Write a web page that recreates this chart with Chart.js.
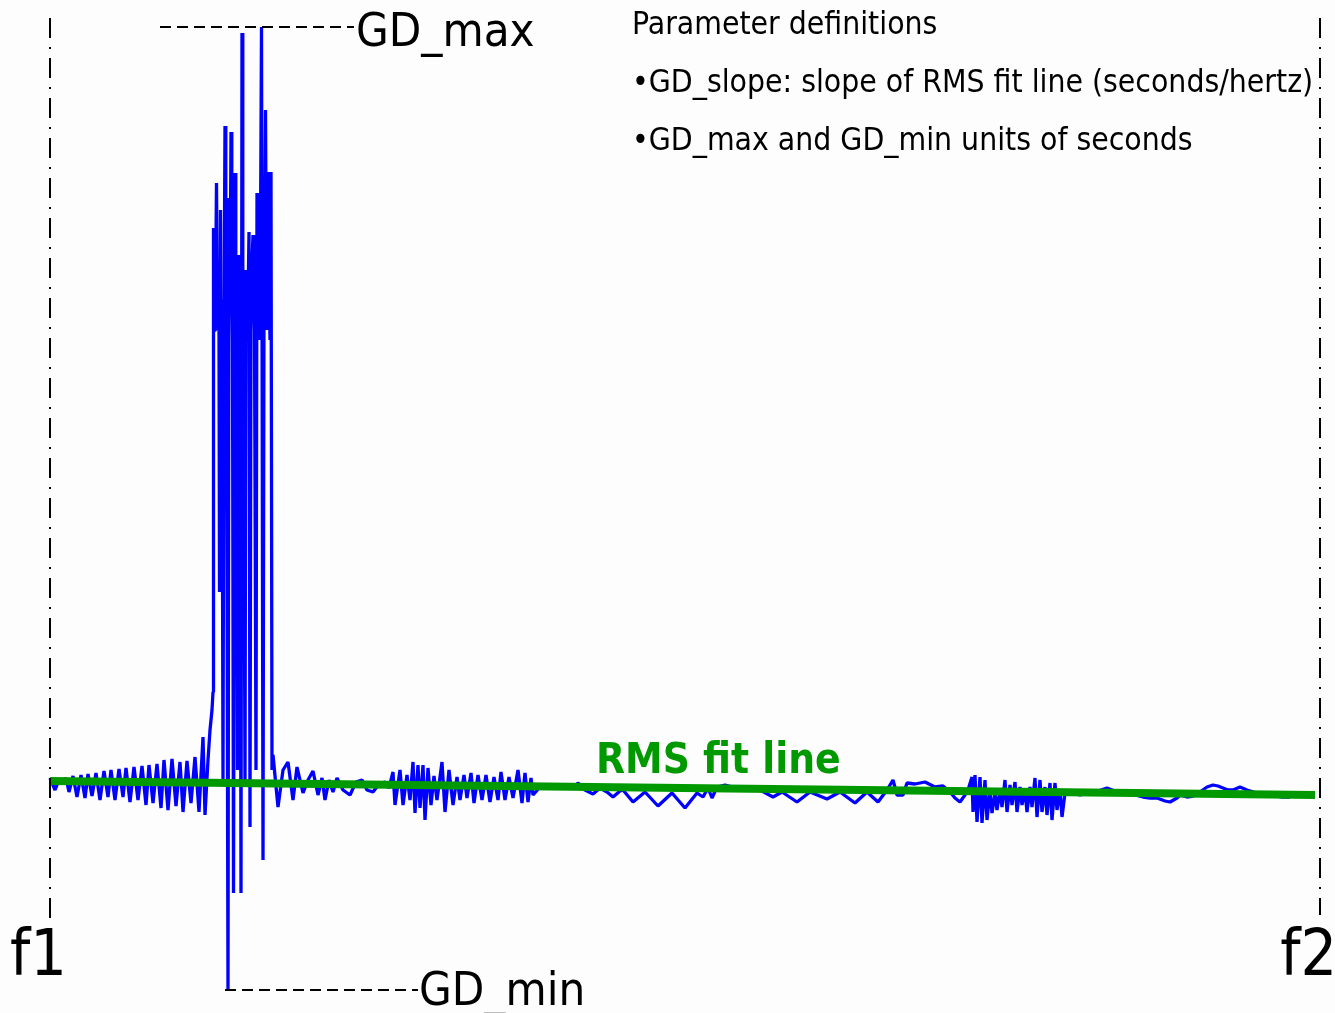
<!DOCTYPE html>
<html><head><meta charset="utf-8">
<script src="https://cdn.jsdelivr.net/npm/chart.js@4"></script>
<style>html,body{margin:0;padding:0;background:#fdfdfd;overflow:hidden}#wrap{width:1335px;height:1013px}</style>
</head><body><div id="wrap"><canvas id="c" width="1335" height="1013"></canvas></div>
<script>
// Frequency offset from f1 (band f1..f2 = 0..1270) and group delay relative to the fit baseline
const bandStart = 0, bandEnd = 1270;
const gdMax = 756, gdMin = -207;
const gdPoints = [
 [0,5],[5,-7],[9,3],[12,-1],[16,5],[19,-9],[23,7],[27,-14],[31,8],[35,-15],[38,9],[42,-13],[46,10],[50,-17],[54,12],[58,-14],[61,13],[65,-17],[69,14],[73,-14],[76,15],[80,-19],[84,16],[88,-17],[92,17],[96,-22],[99,18],[103,-20],[107,19],[111,-25],[114,23],[118,-27],[122,24],[126,-23],[130,21],[133,-29],[137,22],[141,-20],[145,26],[149,-29],[153,46],[155,-32],[158,23],[160,53],[162,73],[163,91],
 [163.5,555],[164.3,470],[165,453],[165.8,520],[166.5,600],[167.2,500],[168,483],[169,460],[169.5,191],[170.5,573],[171.2,470],[172,443],[173,3],[174,483],[174.5,560],[175,657],[175.8,520],[176.5,443],[178,-207],[179,585],[179.5,520],[180,503],[180.5,560],[181,651],[181.8,500],[182.5,443],[183.5,-110],[185,610],[185.8,500],[186.5,453],[187.5,13],[188.5,528],[189.2,500],[190,483],[191,-110],[192,750],[192.8,520],[193.5,443],[195,3],[196,513],[196.8,480],[197.5,453],[198.3,500],[199,551],[200,-44],[201,483],[202,520],[203,548],[203.8,480],[204.5,453],[206,13],[207,590],[207.8,520],[208.5,483],[209.2,500],[210,443],[211.5,756],[213,-77],[214,493],[214.8,560],[215.5,673],[216.3,500],[217,453],[218,611],[219,523],[220,443],[221,611],[222,13],
 [223,28],[228,-24],[233,13],[238,21],[243,-17],[247,16],[253,-10],[258,3],[263,12],[268,-12],[272,5],[275,-17],[279,3],[283,-9],[287,5],[293,-7],[300,-12],[306,1],[312,3],[317,-7],[323,-9],[329,-1],[335,1],[339,-5],
 [343,11],[345,-22],[350,13],[353,-22],[357,8],[360,-17],[363,21],[365,-30],[368,18],[370,-25],[373,18],[375,-37],[378,15],[381,-22],[384,7],[387,-17],[392,21],[395,-29],[399,13],[403,-22],[407,6],[410,-17],[414,8],[417,-15],[421,10],[424,-20],[428,8],[432,-17],[436,8],[440,-19],[444,6],[448,-17],[451,11],[455,-17],[459,6],[463,-15],[468,13],[472,-20],[475,10],[478,-19],[481,5],[483,-12],[490,-4],[510,-5],[525,-4],
 [528,0],[535,-7],[543,-11],[550,-5],[557,-9],[563,-14],[570,-8],[573,-7],[583,-19],[595,-9],[608,-23],[622,-10],[635,-25],[647,-10],[653,-14],[658,-5],[662,-15],[667,-4],[675,-2],[690,-6],[710,-7],[723,-14],[732,-9],[747,-19],[760,-9],[777,-16],[790,-9],[805,-20],[817,-9],[828,-19],[837,-7],[843,3],[847,-12],[853,-12],[857,0],[865,-1],[875,1],[885,-4],[893,-3],[900,-9],[905,-15],[910,-19],[915,-12],[918,-7],
 [922,6],[923,-29],[925,8],[927,-39],[930,6],[932,-40],[935,3],[937,-37],[940,-7],[942,-30],[945,-10],[947,-27],[950,-7],[952,-24],[955,3],[957,-29],[960,-2],[962,-22],[965,1],[967,-29],[970,-4],[972,-22],[975,-7],[977,-29],[980,-4],[982,-24],[985,5],[987,-34],[990,3],[992,-29],[995,-4],[997,-32],[1000,0],[1002,-37],[1005,0],[1007,-27],[1010,-7],[1012,-34],[1015,-10],
 [1020,-10],[1030,-12],[1045,-9],[1057,-5],[1070,-10],[1085,-12],[1093,-14],[1100,-15],[1107,-15],[1115,-18],[1120,-19],[1127,-15],[1130,-12],[1137,-14],[1143,-13],[1150,-9],[1157,-4],[1163,-2],[1168,-3],[1173,-5],[1178,-7],[1183,-7],[1190,-4],[1197,-7],[1207,-10],[1220,-12],[1233,-14],[1240,-14]
];
const fitFreq = [0, 1265];
const fitValue = [2, -12];
const gdMinAt = 178;
const edgeLabels = ['f1', 'f2'];
const infoLines = ['Parameter definitions', '\u2022GD_slope: slope of RMS fit line (seconds/hertz)', '\u2022GD_max and GD_min units of seconds'];
const fitLabel = 'RMS fit line';

const COND = "'DejaVu Sans Condensed','Liberation Sans Narrow','DejaVu Sans',sans-serif";

const annot = {
  id: 'annot',
  afterDatasetsDraw(chart) {
    const ctx = chart.ctx, xs = chart.scales.x, ys = chart.scales.y;
    ctx.save();
    ctx.strokeStyle = '#000'; ctx.lineWidth = 2;
    ctx.setLineDash([20, 9, 2, 9]);
    [[bandStart, 918], [bandEnd, 915]].forEach(([f, bot]) => {
      const x = Math.round(xs.getPixelForValue(f));
      ctx.beginPath(); ctx.moveTo(x, 18); ctx.lineTo(x, bot); ctx.stroke();
    });
    ctx.setLineDash([11, 6]); ctx.lineWidth = 2;
    let y = Math.round(ys.getPixelForValue(gdMax));
    ctx.beginPath(); ctx.moveTo(160, y); ctx.lineTo(354, y); ctx.stroke();
    y = Math.round(ys.getPixelForValue(gdMin));
    ctx.beginPath(); ctx.moveTo(xs.getPixelForValue(gdMinAt) - 3, y); ctx.lineTo(418, y); ctx.stroke();
    ctx.setLineDash([]);
    ctx.fillStyle = '#000'; ctx.textBaseline = 'alphabetic';
    ctx.font = '47px ' + COND; ctx.textAlign = 'left';
    ctx.fillText('GD_max', 356, 46);
    ctx.fillText('GD_min', 419, 1005);
    ctx.font = '64px ' + COND;
    ctx.fillText(edgeLabels[0], 10, 975);
    ctx.textAlign = 'right';
    ctx.fillText(edgeLabels[1], 1337, 975);
    ctx.textAlign = 'left';
    ctx.font = '31.6px ' + COND;
    ctx.fillText(infoLines[0], 632, 34);
    ctx.fillText(infoLines[1], 632, 92);
    ctx.fillText(infoLines[2], 632, 150);
    ctx.fillStyle = '#009900';
    ctx.font = 'bold 42px ' + COND;
    ctx.fillText(fitLabel, 596, 773);
    ctx.restore();
  }
};

new Chart(document.getElementById('c'), {
  type: 'line',
  data: {
    datasets: [
      { label: 'RMS fit', data: fitFreq.map((f, i) => ({x: f, y: fitValue[i]})), borderColor: '#009900', borderWidth: 8, pointRadius: 0, order: 0, clip: false, borderCapStyle: 'butt' },
      { label: 'Group delay', data: gdPoints.map(p => ({x: p[0], y: p[1]})), borderColor: '#0000ff', borderWidth: 3.3, pointRadius: 0, tension: 0, order: 1, clip: false, borderJoinStyle: 'bevel' }
    ]
  },
  options: {
    responsive: false, animation: false, events: [],
    layout: { padding: { left: 50, right: 15, top: 27, bottom: 23 } },
    plugins: { legend: { display: false }, tooltip: { enabled: false } },
    scales: {
      x: { type: 'linear', min: bandStart, max: bandEnd, display: false },
      y: { type: 'linear', min: gdMin, max: gdMax, display: false }
    }
  },
  plugins: [annot]
});
</script></body></html>
